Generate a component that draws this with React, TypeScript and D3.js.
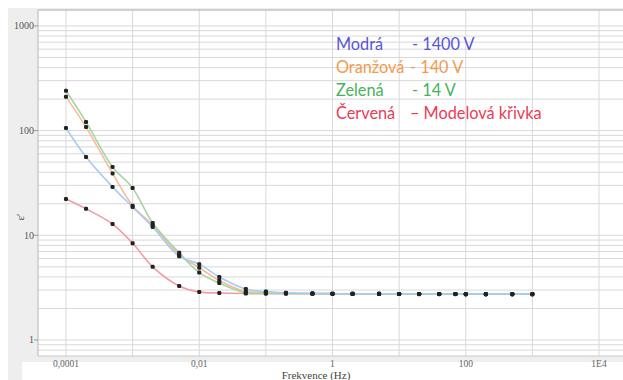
import React from "react";
import * as d3 from "d3";

const width = 623;
const height = 380;

// frequencies (Hz)
const freq = [1e-4, 2e-4, 5e-4, 1e-3, 2e-3, 5e-3, 0.01, 0.02, 0.05, 0.1, 0.2, 0.5, 1, 2, 5, 10, 20, 40, 70, 100, 200, 500, 1000];

// eps' values
const modra = [106, 56, 29, 18.6, 12.0, 6.3, 5.3, 4.0, 3.07, 2.9, 2.82, 2.78, 2.77, 2.76, 2.76, 2.75, 2.75, 2.75, 2.75, 2.74, 2.74, 2.74, 2.74];
const oranzova = [210, 108, 39, 19.2, 12.5, 6.5, 4.9, 3.7, 2.9, 2.85, 2.8, 2.78, 2.77, 2.76, 2.76, 2.75, 2.75, 2.75, 2.75, 2.74, 2.74, 2.74, 2.74];
const zelena = [240, 121, 45, 28.3, 13.1, 6.8, 4.4, 3.5, 2.82, 2.8, 2.79, 2.78, 2.77, 2.76, 2.76, 2.75, 2.75, 2.75, 2.75, 2.74, 2.74, 2.74, 2.74];
const cervena = [22.2, 17.9, 12.8, 8.4, 5.0, 3.28, 2.87, 2.81, 2.78, 2.77, 2.76, 2.76, 2.75, 2.75, 2.75, 2.75, 2.74, 2.74, 2.74, 2.74, 2.74, 2.74, 2.74];

const xTicks = [1e-4, 1e-2, 1, 100, 1e4];
const xTickLabels = ["0,0001", "0,01", "1", "100", "1E4"];
const yTicks = [1, 10, 100, 1000];
const yTickLabels = ["1", "10", "100", "1000"];

const legendNames = ["Modrá", "Oranžová", "Zelená", "Červená"];
const legendValues = ["- 1400 V", "- 140 V", "- 14 V", "– Modelová křivka"];

const series = [
  { values: cervena, line: "#f39aa6" },
  { values: oranzova, line: "#f6bc9c" },
  { values: zelena, line: "#a6d6a0" },
  { values: modra, line: "#a6ccf2" },
];
const legendColors = ["#5656d6", "#f39a4e", "#46b35c", "#ea3c55"];

const plot = { left: 38, top: 10, right: 623, bottom: 356 };

const App = () => {
  const x = d3
    .scaleLog()
    .domain([Math.pow(10, -4.42), Math.pow(10, 4.36)])
    .range([plot.left, plot.right]);
  const y = d3
    .scaleLog()
    .domain([Math.pow(10, -0.153), Math.pow(10, 3.152)])
    .range([plot.bottom, plot.top]);

  // minor + major horizontal grid
  const hGrid: number[] = [];
  for (let e = -1; e <= 3; e++) {
    for (let m = 1; m <= 9; m++) {
      const v = m * Math.pow(10, e);
      if (v >= y.domain()[0] && v <= y.domain()[1]) hGrid.push(v);
    }
  }
  const vGrid = d3.range(-4, 5).map((e) => Math.pow(10, e));

  const line = d3
    .line<number>()
    .x((d, i) => x(freq[i]))
    .y((d) => y(d))
    .curve(d3.curveCatmullRom.alpha(0.5));

  return (
    <svg width={width} height={height} style={{ position: "absolute", left: 0, top: 0 }}>
      <rect x={0} y={0} width={width} height={height} fill="#ffffff" />
      <rect x={8} y={8} width={width - 8} height={height - 8} fill="#eeeeee" />
      <rect x={22} y={362} width={width - 22} height={height - 362} fill="#ffffff" />
      <rect x={plot.left} y={plot.top} width={plot.right - plot.left} height={plot.bottom - plot.top} fill="#ffffff" />

      {hGrid.map((v) => (
        <line key={"h" + v} x1={plot.left} x2={plot.right} y1={y(v)} y2={y(v)} stroke="#d8d8d8" strokeWidth={1} />
      ))}
      {vGrid.map((v) => (
        <line key={"v" + v} x1={x(v)} x2={x(v)} y1={plot.top} y2={plot.bottom} stroke="#d8d8d8" strokeWidth={1} />
      ))}

      <line x1={plot.left} x2={plot.right} y1={plot.top} y2={plot.top} stroke="#c4c4c4" strokeWidth={1.5} />
      <line x1={plot.left} x2={plot.left} y1={plot.top} y2={plot.bottom} stroke="#b8b8b8" />
      <line x1={plot.left} x2={plot.right} y1={plot.bottom} y2={plot.bottom} stroke="#c8c8c8" />

      {yTicks.map((v, i) => (
        <g key={"yt" + v}>
          <line x1={plot.left - 4} x2={plot.left} y1={y(v)} y2={y(v)} stroke="#999" />
          <text x={plot.left - 4} y={y(v) + 3.5} textAnchor="end" fontSize={10} fontFamily="Liberation Serif" fill="#555">
            {yTickLabels[i]}
          </text>
        </g>
      ))}
      {xTicks.map((v, i) => (
        <text key={"xt" + v} x={x(v)} y={367} textAnchor="middle" fontSize={9.5} fontFamily="Liberation Serif" fill="#666">
          {xTickLabels[i]}
        </text>
      ))}
      <text x={316} y={379} textAnchor="middle" fontSize={11} fontFamily="Liberation Serif" fill="#444">
        Frekvence (Hz)
      </text>
      <text transform="translate(24,217) rotate(-90)" textAnchor="middle" fontSize={11} fontFamily="Liberation Serif" fill="#444">
        ε′
      </text>

      {series.map((s, i) => (
        <path key={"l" + i} d={line(s.values) || ""} fill="none" stroke={s.line} strokeWidth={1.6} />
      ))}
      {series.map((s, i) =>
        s.values.map((v, j) => (
          <rect key={"m" + i + "-" + j} x={x(freq[j]) - 2} y={y(v) - 2} width={4} height={4} rx={1.3} fill="#222" />
        ))
      )}

      {legendNames.map((n, i) => (
        <g key={"lg" + i} fontFamily="Lato" fontSize={16.3} fill={legendColors[i]}>
          <text x={336} y={50 + i * 23}>{n}</text>
          <text x={i === 1 || i === 3 ? 410 : 412} y={50 + i * 23}>{legendValues[i]}</text>
        </g>
      ))}
    </svg>
  );
};

export default App;
